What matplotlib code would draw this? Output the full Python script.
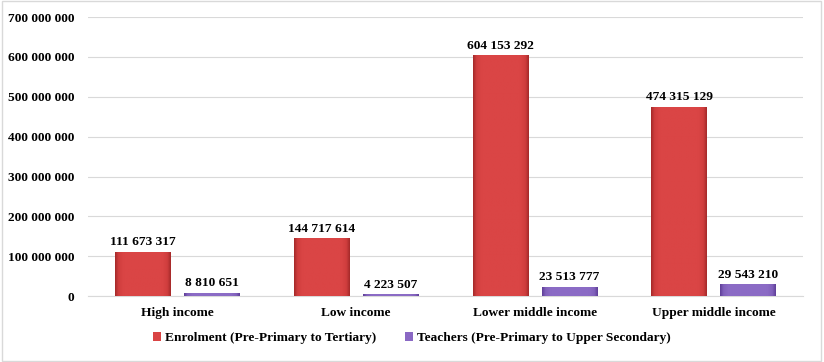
import matplotlib
matplotlib.use("Agg")
import matplotlib.pyplot as plt
import numpy as np
from matplotlib.colors import LinearSegmentedColormap

categories = ["High income", "Low income", "Lower middle income", "Upper middle income"]
enrolment = [111673317, 144717614, 604153292, 474315129]
teachers = [8810651, 4223507, 23513777, 29543210]
series_names = ["Enrolment (Pre-Primary to Tertiary)", "Teachers (Pre-Primary to Upper Secondary)"]
yticks = [0, 100000000, 200000000, 300000000, 400000000, 500000000, 600000000, 700000000]

def fmt(v):
    return f"{v:,}".replace(",", " ")

plt.rcParams['font.family'] = ['Liberation Serif', 'DejaVu Serif']
FS = 9.6
fig = plt.figure(figsize=(8.24, 3.62), dpi=100)
ax = fig.add_axes([0.107, 0.182, 0.8675, 0.771])

x = np.arange(len(categories))
w = 0.31
off = 0.193

red_cmap = LinearSegmentedColormap.from_list(
    "r", [(0, "#a52a2a"), (0.06, "#cf3d3d"), (0.15, "#da4545"), (0.85, "#da4545"), (0.94, "#cf3d3d"), (1, "#a52a2a")])
pur_cmap = LinearSegmentedColormap.from_list(
    "p", [(0, "#5f3f98"), (0.06, "#8060bb"), (0.15, "#8b6bc5"), (0.85, "#8b6bc5"), (0.94, "#8060bb"), (1, "#5f3f98")])
grad = np.linspace(0, 1, 128).reshape(1, -1)

def draw(xs, vals, base, cmap, label):
    bars = ax.bar(xs, vals, width=w, color=base, label=label, zorder=2)
    for b in bars:
        x0, y0 = b.get_x(), b.get_y()
        bw, bh = b.get_width(), b.get_height()
        im = ax.imshow(grad, cmap=cmap, aspect='auto', extent=(x0, x0 + bw, y0, y0 + bh),
                       zorder=3, interpolation='bilinear')
        im.set_clip_path(b)
    return bars

draw(x - off, enrolment, "#d94444", red_cmap, series_names[0])
draw(x + off, teachers, "#8a68c4", pur_cmap, series_names[1])

for i in range(len(categories)):
    ax.text(x[i] - off, enrolment[i] + 9e6, fmt(enrolment[i]), ha='center', va='bottom',
            fontsize=FS, fontweight='bold', zorder=4)
    ax.text(x[i] + off, teachers[i] + 9e6, fmt(teachers[i]), ha='center', va='bottom',
            fontsize=FS, fontweight='bold', zorder=4)

ax.set_xlim(-0.5, len(categories) - 0.5)
ax.set_ylim(0, 700000000)
ax.set_yticks(yticks)
ax.set_yticklabels([fmt(v) for v in yticks], fontsize=FS, fontweight='bold')
ax.set_xticks(x)
ax.set_xticklabels(categories, fontsize=FS, fontweight='bold')
ax.tick_params(axis='y', length=0, pad=10)
ax.tick_params(axis='x', length=0, pad=8)
ax.grid(axis='y', color='#d9d9d9', linewidth=0.8, zorder=0)
ax.set_axisbelow(True)
for s in ['top', 'right', 'left']:
    ax.spines[s].set_visible(False)
ax.spines['bottom'].set_color('#d9d9d9')

leg = fig.legend(*ax.get_legend_handles_labels(), loc='center', bbox_to_anchor=(0.5, 0.066), ncol=2,
                 frameon=False, prop={'size': FS, 'weight': 'bold'}, handlelength=0.6, handleheight=0.6,
                 columnspacing=2.2, handletextpad=0.3)

fig.patches.append(plt.Rectangle((0.002, 0.003), 0.994, 0.994, transform=fig.transFigure,
                                 fill=False, edgecolor='#d9d9d9', linewidth=1))
fig.savefig("out.png", dpi=100)
